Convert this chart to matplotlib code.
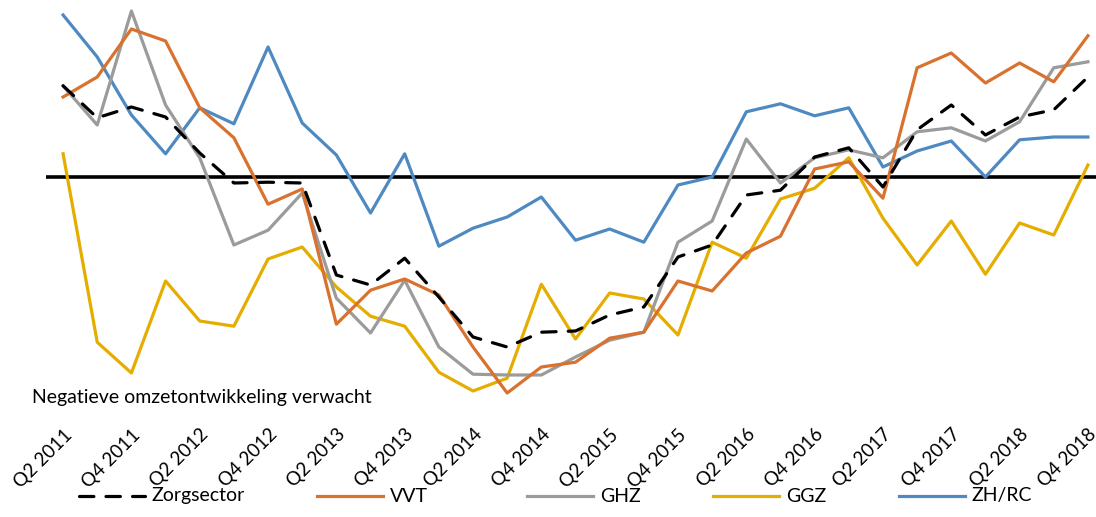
import matplotlib.pyplot as plt
from matplotlib.lines import Line2D

plt.rcParams['font.family'] = ['Lato', 'DejaVu Sans']

# 31 kwartalen, Q2 2011 t/m Q4 2018
kwartalen = list(range(31))
tick_labels = ["Q2 2011", "Q4 2011", "Q2 2012", "Q4 2012", "Q2 2013", "Q4 2013",
               "Q2 2014", "Q4 2014", "Q2 2015", "Q4 2015", "Q2 2016", "Q4 2016",
               "Q2 2017", "Q4 2017", "Q2 2018", "Q4 2018"]

zorgsector = [22.8, 14.8, 17.5, 15.0, 6.0, -1.5, -1.3, -1.5, -24.5, -27.0, -20.3,
              -30.0, -40.0, -42.5, -38.8, -38.5, -34.5, -32.5, -20.0, -17.0, -4.5,
              -3.3, 5.0, 7.3, -2.5, 11.8, 18.0, 10.5, 15.0, 16.8, 25.0]
vvt = [20.0, 25.0, 37.0, 34.0, 17.3, 9.8, -6.8, -3.0, -36.8, -28.3, -25.5, -29.5,
       -42.5, -54.0, -47.5, -46.3, -40.3, -38.8, -26.0, -28.5, -19.0, -14.8, 2.0,
       3.8, -5.3, 27.3, 31.0, 23.5, 28.5, 23.8, 35.3]
ghz = [22.8, 13.0, 41.5, 18.0, 4.8, -17.0, -13.3, -4.0, -30.3, -39.0, -25.8, -42.5,
       -49.3, -49.5, -49.5, -45.0, -40.8, -38.8, -16.3, -11.0, 9.5, -1.5, 4.8, 6.8,
       4.8, 11.3, 12.3, 9.0, 13.8, 27.3, 28.8]
ggz = [5.8, -41.3, -49.0, -26.0, -36.0, -37.3, -20.5, -17.5, -27.5, -34.8, -37.3,
       -48.8, -53.5, -50.3, -26.8, -40.5, -29.0, -30.5, -39.5, -16.3, -20.3, -5.5,
       -2.8, 4.8, -10.3, -22.0, -11.0, -24.3, -11.5, -14.5, 3.0]
zhrc = [40.5, 30.0, 15.5, 5.8, 17.3, 13.3, 32.5, 13.5, 5.5, -9.0, 5.8, -17.3, -12.8,
        -10.0, -5.0, -15.8, -13.0, -16.3, -2.0, 0.0, 16.3, 18.3, 15.3, 17.3, 2.5,
        6.5, 9.0, 0.0, 9.3, 10.0, 10.0]

kleuren = {
    "Zorgsector": "black",
    "VVT": "#D8722E",
    "GHZ": "#9B9B9B",
    "GGZ": "#E5AD00",
    "ZH/RC": "#4E8AC1",
}

W, H = 1096, 517
fig = plt.figure(figsize=(W / 100, H / 100), dpi=100)
ax = fig.add_axes([46 / W, 1 - 412 / H, (1105 - 46) / W, 412 / H])

lw = 2.3
ax.axhline(0, color="black", lw=2.6, zorder=1)
ax.plot(kwartalen, zhrc, color=kleuren["ZH/RC"], lw=lw, zorder=2)
ax.plot(kwartalen, ggz, color=kleuren["GGZ"], lw=lw, zorder=3)
ax.plot(kwartalen, ghz, color=kleuren["GHZ"], lw=lw, zorder=4)
ax.plot(kwartalen, vvt, color=kleuren["VVT"], lw=lw, zorder=5)
ax.plot(kwartalen, zorgsector, color=kleuren["Zorgsector"], lw=lw,
        dashes=(4.5, 3.8), dash_capstyle="round", zorder=6)

ax.set_xlim(-0.5, 30.5)
ax.set_ylim(-58.75, 44.25)
ax.set_yticks([])
ax.set_xticks(kwartalen[::2])
ax.set_xticklabels(tick_labels, rotation=45, ha="right", va="top",
                   rotation_mode="anchor", fontsize=13.5)
ax.tick_params(axis="x", length=0, pad=10)
for s in ax.spines.values():
    s.set_visible(False)

fig.text(32 / W, 1 - 397 / H, "Negatieve omzetontwikkeling verwacht",
         fontsize=14, va="center", ha="left")

# legenda onderaan
leg_x = [79, 317, 527, 713, 899]
leg_y = 1 - 496 / H
for naam, x0 in zip(kleuren, leg_x):
    kw = dict(color=kleuren[naam], lw=lw, transform=fig.transFigure)
    if naam == "Zorgsector":
        kw.update(dashes=(4.5, 3.8), dash_capstyle="round")
    fig.add_artist(Line2D([x0 / W, (x0 + 66) / W], [leg_y, leg_y], **kw))
    fig.text((x0 + 73) / W, leg_y, naam, fontsize=14, va="center", ha="left")

fig.savefig("out.png", dpi=100)
